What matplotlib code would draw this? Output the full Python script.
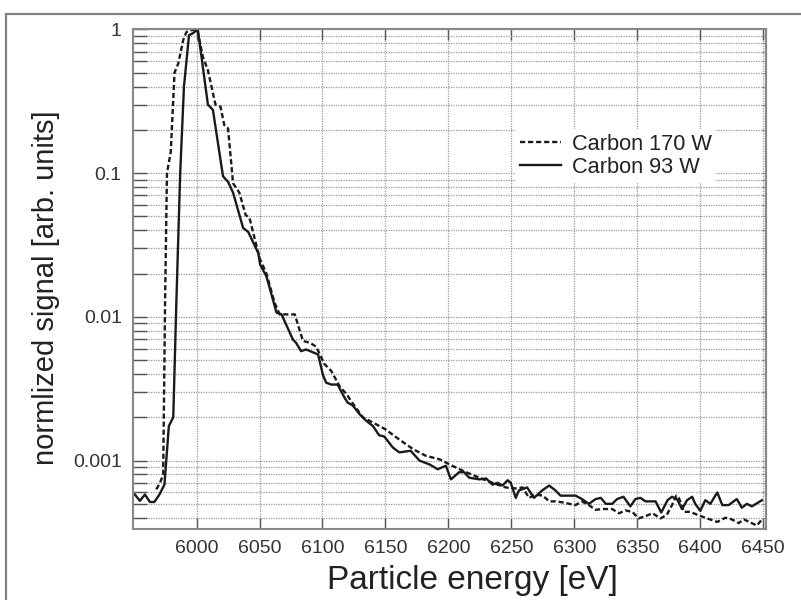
import matplotlib
matplotlib.use('Agg')
import matplotlib.pyplot as plt
from matplotlib.patches import Rectangle
from matplotlib.ticker import FixedLocator, NullFormatter, LogLocator

plt.rcParams['font.family'] = ['Liberation Sans', 'DejaVu Sans']

# Carbon 170 W (dashed)
e_170 = [5968, 5971, 5973.5, 5975, 5976.5, 5979.5, 5982.5, 5985.5, 5989.5, 5992, 5996, 6000.5,
         6005, 6009, 6015, 6019, 6022, 6025, 6029, 6034, 6039, 6042, 6050, 6055.5, 6062, 6066,
         6072.5, 6078, 6084.5, 6090, 6095, 6101.5, 6107, 6113.5, 6119, 6124, 6132, 6140, 6150,
         6161, 6172, 6182, 6193, 6203, 6214, 6224.5, 6235, 6245.5, 6253.5, 6259, 6264, 6269,
         6275, 6280, 6285, 6292, 6296, 6301, 6306, 6311.5, 6317, 6322, 6330, 6335.5, 6340.5,
         6346, 6351, 6356.5, 6362, 6368.5, 6373.5, 6377.5, 6381, 6383, 6387, 6392, 6397.5,
         6404, 6413.5, 6420, 6425, 6430.5, 6434.5, 6440, 6445, 6449]
s_170 = [0.00063, 0.0007, 0.0008, 0.013, 0.1, 0.14, 0.5, 0.58, 0.85, 0.96, 0.99, 1.0,
         0.645, 0.52, 0.30, 0.29, 0.216, 0.205, 0.085, 0.073, 0.051, 0.049, 0.0256, 0.02, 0.0125, 0.0104,
         0.0104, 0.0104, 0.0068, 0.0066, 0.0062, 0.0047, 0.0042, 0.0033, 0.0029, 0.0025, 0.002, 0.00184, 0.00165,
         0.0014, 0.0012, 0.00108, 0.00102, 0.00092, 0.00083, 0.00076, 0.0007, 0.00065, 0.00064, 0.00065, 0.00055, 0.00058,
         0.00057, 0.00052, 0.00052, 0.00051, 0.0005, 0.00049, 0.00052, 0.00049, 0.000454, 0.00046, 0.00046, 0.00043, 0.00045,
         0.00044, 0.000396, 0.00041, 0.00043, 0.000396, 0.00042, 0.00049, 0.00057, 0.00055, 0.00044, 0.00044, 0.00042,
         0.0004, 0.000374, 0.0004, 0.00039, 0.000367, 0.00039, 0.00037, 0.000353, 0.00039]

# Carbon 93 W (solid)
e_93 = [5951, 5955, 5959, 5963, 5966.5, 5970.5, 5974.5, 5978, 5981.5, 5984, 5987, 5990, 5994, 5997, 6001,
        6009, 6013, 6021, 6025, 6029, 6037, 6041, 6049, 6050.5, 6055.5, 6063.5, 6067.5, 6076.5, 6079, 6083,
        6087, 6096.5, 6100.5, 6103, 6107, 6112, 6117.5, 6120, 6124, 6129.5, 6134.5, 6140, 6145, 6149,
        6156, 6161, 6170, 6177, 6185, 6191.5, 6198, 6202, 6208.5, 6212.5, 6216.5, 6224.5, 6230, 6235,
        6239, 6243, 6247, 6249.5, 6253.5, 6256, 6262.5, 6268, 6274.5, 6280, 6285, 6289, 6296, 6301,
        6306, 6311.5, 6317, 6321, 6325, 6330, 6334, 6339, 6344.5, 6348.5, 6352.5, 6356.5, 6364.5, 6369,
        6374, 6377.5, 6381.5, 6385.5, 6389.5, 6393.5, 6396, 6400, 6404, 6408, 6413.5, 6417.5, 6422.5,
        6429, 6433, 6437, 6441, 6449]
s_93 = [0.00058, 0.000525, 0.00058, 0.000515, 0.000515, 0.00058, 0.00068, 0.00174, 0.002, 0.013, 0.1, 0.4, 0.91, 0.94, 1.0,
        0.30, 0.275, 0.095, 0.087, 0.073, 0.0415, 0.039, 0.0278, 0.0231, 0.0191, 0.0107, 0.0104, 0.00695, 0.0066, 0.00577,
        0.00593, 0.00547, 0.0039, 0.00348, 0.00338, 0.00338, 0.00274, 0.00253, 0.00242, 0.0021, 0.0019, 0.00174, 0.0015, 0.00147,
        0.00123, 0.00114, 0.00117, 0.001, 0.00094, 0.00087, 0.00092, 0.00074, 0.00083, 0.00083, 0.00076, 0.00074, 0.00075, 0.00068,
        0.0007, 0.00067, 0.00073, 0.0007, 0.00055, 0.00062, 0.00065, 0.00055, 0.00062, 0.00067, 0.00062, 0.00057, 0.00057, 0.00057,
        0.00054, 0.0005, 0.00054, 0.00055, 0.0005, 0.0005, 0.00054, 0.00056, 0.00048, 0.00054, 0.00055, 0.00052, 0.00052, 0.000435,
        0.00053, 0.00056, 0.00054, 0.00046, 0.00053, 0.00056, 0.0005, 0.000447, 0.00053, 0.0005, 0.0006, 0.00049, 0.00049,
        0.00054, 0.00047, 0.0005, 0.00048, 0.00053]

x_ticks = [6000, 6050, 6100, 6150, 6200, 6250, 6300, 6350, 6400, 6450]
y_ticks = [0.001, 0.01, 0.1, 1]
y_labels = ['0.001', '0.01', '0.1', '1']

fig = plt.figure(figsize=(8.01, 6.0), dpi=100)
ax = fig.add_axes([0.166, 0.118, 0.790, 0.833])

# grey frame, cut by the right and bottom edges
fig.patches.append(Rectangle((0.0075, -0.1), 1.2, 1.0767, transform=fig.transFigure,
                             fill=False, edgecolor='#808080', linewidth=1.6))

ax.plot(e_170, s_170, color='#1a1a1a', linestyle=(0, (2.2, 1.2)), linewidth=1.7, label='Carbon 170 W')
ax.plot(e_93, s_93, color='#1a1a1a', linestyle='-', linewidth=1.7, label='Carbon 93 W')

ax.set_yscale('log')
ax.set_xlim(5949.5, 6452)
ax.set_ylim(3.33e-4, 1.0)

ax.xaxis.set_major_locator(FixedLocator(x_ticks))
ax.yaxis.set_major_locator(FixedLocator(y_ticks))
ax.set_yticklabels(y_labels)
ax.yaxis.set_minor_locator(LogLocator(base=10, subs=range(2, 10)))
ax.yaxis.set_minor_formatter(NullFormatter())

ax.grid(True, which='major', axis='x', color='#9a9a9a', linestyle=(0, (1, 1)), linewidth=0.9)
ax.grid(True, which='both', axis='y', color='#9a9a9a', linestyle=(0, (1, 1)), linewidth=0.9)

ax.tick_params(axis='both', which='both', direction='in', colors='#555555', labelcolor='#333333',
               labelsize=14, width=1.0, pad=8)
ax.tick_params(axis='y', which='both', length=10, right=False)
ax.tick_params(axis='x', which='major', length=8, top=True)

sec = ax.secondary_yaxis('right')
sec.set_yscale('log')
sec.yaxis.set_major_locator(FixedLocator(y_ticks))
sec.yaxis.set_minor_locator(LogLocator(base=10, subs=range(2, 10)))
sec.tick_params(which='both', direction='in', length=3, labelright=False, colors='#555555')
sec.spines['right'].set_color('#888888')
sec.spines['right'].set_linewidth(1.5)

for sp in ax.spines.values():
    sp.set_color('#888888')
    sp.set_linewidth(1.5)

ax.set_xlabel('Particle energy [eV]', fontsize=24, color='#222222')
ax.set_ylabel('normlized signal [arb. units]', fontsize=21, color='#222222')
ax.xaxis.set_label_coords(0.536, -0.072)
ax.yaxis.set_label_coords(-0.115, 0.483)

leg = ax.legend(loc='upper left', bbox_to_anchor=(0.604, 0.80), fontsize=15.7, frameon=True,
                fancybox=False, edgecolor='none', facecolor='white', framealpha=1.0,
                handlelength=1.9, handletextpad=0.5, labelspacing=0.1, borderpad=0.2,
                borderaxespad=0.0)
for t in leg.get_texts():
    t.set_color('#222222')

fig.savefig('out.png', dpi=100)
